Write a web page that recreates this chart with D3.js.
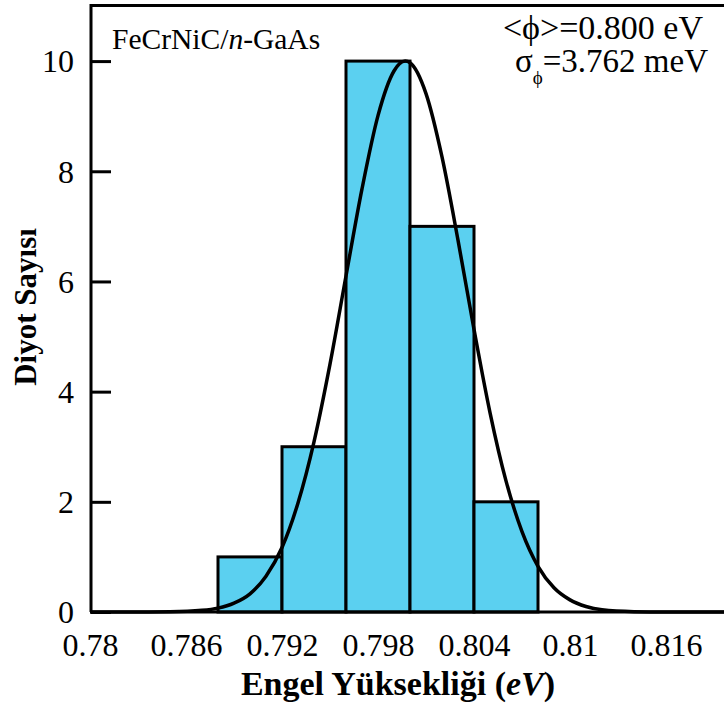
<html>
<head>
<style>
    body { margin: 0; background: #fff; }
    svg { display: block; font-family: 'Liberation Serif', 'Times New Roman', serif; }
</style>
</head>
<body>
<svg width="724" height="717"></svg>
<script src="https://cdn.jsdelivr.net/npm/d3@7/dist/d3.min.js"></script>
<script>

    // histogram bins (eV) and counts
    let binStart = [0.788, 0.792, 0.796, 0.800, 0.804]
    let binEnd   = [0.792, 0.796, 0.800, 0.804, 0.808]
    let counts   = [1, 3, 10, 7, 2]

    // fitted gaussian curve
    let curveX = [0.780, 0.783, 0.785, 0.787, 0.788, 0.789, 0.790, 0.791, 0.792, 0.793, 0.794, 0.795,
                  0.796, 0.797, 0.798, 0.799, 0.7997, 0.800, 0.801, 0.802, 0.803, 0.804, 0.805, 0.806,
                  0.807, 0.808, 0.809, 0.810, 0.811, 0.812, 0.814, 0.816, 0.820]
    let curveY = [0, 0, 0.004, 0.03, 0.07, 0.16, 0.33, 0.65, 1.17, 1.98, 3.09, 4.50,
                  6.10, 7.68, 9.01, 9.82, 10, 9.97, 9.41, 8.26, 6.75, 5.13, 3.62, 2.38,
                  1.46, 0.83, 0.44, 0.22, 0.10, 0.04, 0.006, 0, 0]

    let xTicks = [0.78, 0.786, 0.792, 0.798, 0.804, 0.81, 0.816]
    let yTicks = [0, 2, 4, 6, 8, 10]

    let serif = "'Liberation Serif', 'Times New Roman', serif"

    let svg = d3.select("svg")

    let x = d3.scaleLinear()
        .domain([0.78, 0.82])
        .range([90, 730])

    let y = d3.scaleLinear()
        .domain([0, 11])
        .range([612, 6])

    // bars
    svg.append("g")
        .selectAll("rect")
        .data(counts)
        .join("rect")
        .attr("x", (d, i) => x(binStart[i]))
        .attr("width", (d, i) => x(binEnd[i]) - x(binStart[i]))
        .attr("y", d => y(d))
        .attr("height", d => y(0) - y(d))
        .attr("fill", "#5bd0f0")
        .attr("stroke", "#000")
        .attr("stroke-width", 3)

    // gaussian
    let line = d3.line()
        .x((d, i) => x(curveX[i]))
        .y(d => y(d))
        .curve(d3.curveMonotoneX)

    svg.append("path")
        .datum(curveY)
        .attr("d", line)
        .attr("fill", "none")
        .attr("stroke", "#000")
        .attr("stroke-width", 3.5)

    // y axis, ticks inward
    let yAxis = svg.append("g")
        .attr("transform", "translate(91,0)")
        .call(d3.axisRight(y).tickValues(yTicks).tickSize(20).tickFormat(d3.format("d")))
    yAxis.select(".domain").remove()
    yAxis.selectAll("line").attr("stroke", "#000").attr("stroke-width", 3)
    yAxis.selectAll("text")
        .attr("x", -17)
        .attr("dy", "0.34em")
        .attr("text-anchor", "end")
        .style("font-family", serif)
        .style("font-size", "32px")
        .style("fill", "#000")

    // x axis labels only
    let xAxis = svg.append("g")
        .attr("transform", "translate(0,612)")
        .call(d3.axisBottom(x).tickValues(xTicks).tickSize(0).tickFormat(d => String(d)))
    xAxis.select(".domain").remove()
    xAxis.selectAll("text")
        .attr("y", 44)
        .attr("dy", 0)
        .style("font-family", serif)
        .style("font-size", "32px")
        .style("fill", "#000")

    // frame
    svg.append("path")
        .attr("d", `M91,612 L91,5.5 L724,5.5 M91,612 L724,612`)
        .attr("fill", "none")
        .attr("stroke", "#000")
        .attr("stroke-width", 3)

    // labels
    let lab = svg.append("text")
        .attr("x", 112)
        .attr("y", 49)
        .style("font-size", "29.5px")
    lab.append("tspan").text("FeCrNiC/")
    lab.append("tspan").style("font-style", "italic").text("n")
    lab.append("tspan").text("-GaAs")

    svg.append("text")
        .attr("x", 703)
        .attr("y", 39)
        .attr("text-anchor", "end")
        .style("font-size", "34px")
        .text("<\u03D5>=0.800 eV")

    let sig = svg.append("text")
        .attr("x", 708)
        .attr("y", 72)
        .attr("text-anchor", "end")
        .style("font-size", "33px")
    sig.append("tspan").text("\u03C3")
    sig.append("tspan").attr("dy", 12).style("font-size", "19px").text("\u03D5")
    sig.append("tspan").attr("dy", -12).text("=3.762 meV")

    svg.append("text")
        .attr("transform", "translate(36,307) rotate(-90)")
        .attr("text-anchor", "middle")
        .style("font-size", "31px")
        .style("font-weight", "bold")
        .text("Diyot Sayısı")

    let xt = svg.append("text")
        .attr("x", 398)
        .attr("y", 695)
        .attr("text-anchor", "middle")
        .style("font-size", "34px")
        .style("font-weight", "bold")
    xt.append("tspan").text("Engel Yüksekliği (")
    xt.append("tspan").style("font-style", "italic").text("eV")
    xt.append("tspan").text(")")

</script>
</body>
</html>
